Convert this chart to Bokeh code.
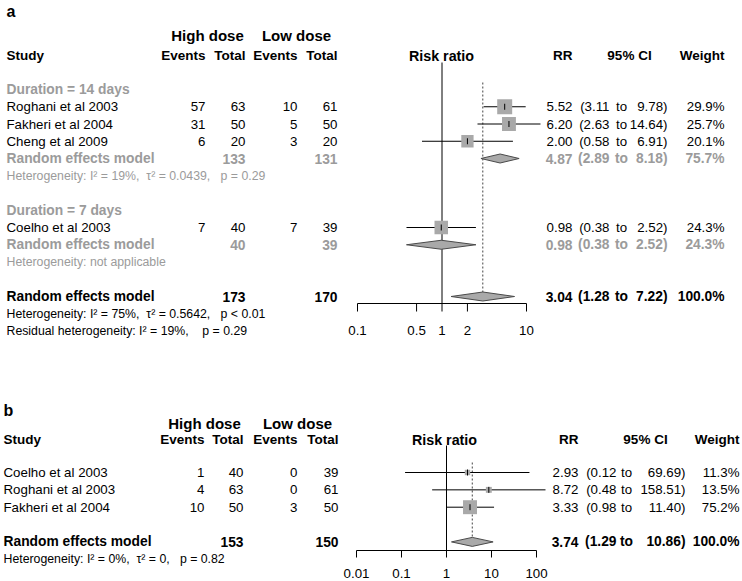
import numpy as np
from bokeh.plotting import figure
from bokeh.models import Range1d, LogScale
from bokeh.embed import file_html
from bokeh.resources import INLINE
from bokeh.core.properties import value

# ---------------- data: panel a ----------------
a_subgroups = ["Duration = 14 days", "Duration = 7 days"]
a_studies = ["Roghani et al 2003", "Fakheri et al 2004", "Cheng et al 2009", "Coelho et al 2003"]
a_ev_high = [57, 31, 6, 7]
a_tot_high = [63, 50, 20, 40]
a_ev_low = [10, 5, 3, 7]
a_tot_low = [61, 50, 20, 39]
a_rr = [5.52, 6.20, 2.00, 0.98]
a_lo = [3.11, 2.63, 0.58, 0.38]
a_hi = [9.78, 14.64, 6.91, 2.52]
a_w = [29.9, 25.7, 20.1, 24.3]
a_sub_tot_high = [133, 40]
a_sub_tot_low = [131, 39]
a_sub_rr = [4.87, 0.98]
a_sub_lo = [2.89, 0.38]
a_sub_hi = [8.18, 2.52]
a_sub_w = [75.7, 24.3]
a_sub_het = ["Heterogeneity: I\u00b2 = 19%,\u00a0 \u03c4\u00b2 = 0.0439,\u00a0\u00a0 p = 0.29",
             "Heterogeneity: not applicable"]
a_all_tot = [173, 170]
a_pool = [3.04, 1.28, 7.22, 100.0]
a_het = "Heterogeneity: I\u00b2 = 75%,\u00a0 \u03c4\u00b2 = 0.5642,\u00a0\u00a0 p < 0.01"
a_resid = "Residual heterogeneity: I\u00b2 = 19%,\u00a0\u00a0\u00a0 p = 0.29"
a_ticks = [0.1, 0.5, 1, 2, 10]

# ---------------- data: panel b ----------------
b_studies = ["Coelho et al 2003", "Roghani et al 2003", "Fakheri et al 2004"]
b_ev_high = [1, 4, 10]
b_tot_high = [40, 63, 50]
b_ev_low = [0, 0, 3]
b_tot_low = [39, 61, 50]
b_rr = [2.93, 8.72, 3.33]
b_lo = [0.12, 0.48, 0.98]
b_hi = [69.69, 158.51, 11.40]
b_w = [11.3, 13.5, 75.2]
b_all_tot = [153, 150]
b_pool = [3.74, 1.29, 10.86, 100.0]
b_het = "Heterogeneity: I\u00b2 = 0%,\u00a0 \u03c4\u00b2 = 0,\u00a0\u00a0 p = 0.82"
b_ticks = [0.01, 0.1, 1, 10, 100]

# ---------------- styling ----------------
FONT = value("Liberation Sans")
GRAY = "#9b9b9b"
SQ = "#a9a9a9"
FS = "13.3px"
FS_B = "13.8px"
FS_S = "12.3px"
FS_H = "13.5px"

W, H = 742, 581
X0, Y0 = 0, 0
p = figure(width=W, height=H, output_backend="svg", toolbar_location=None,
           x_range=Range1d(X0, X0 + W), y_range=Range1d(Y0 + H, Y0),
           x_axis_location=None, y_axis_location=None, min_border=0,
           outline_line_color=None)
p.grid.visible = False


def log_range(px_one, px_dec):
    return Range1d(10 ** ((X0 - px_one) / px_dec), 10 ** ((X0 + W - px_one) / px_dec))


p.extra_x_ranges = {"la": log_range(441.5, 84.5), "lb": log_range(446, 45)}
p.extra_x_scales = {"la": LogScale(), "lb": LogScale()}


def txt(xs, ys, texts, align="left", bold=False, color="black", size=None,
        base="middle", rng="default"):
    n = len(texts)
    if size is None:
        size = FS_B if bold else FS
    if not isinstance(xs, (list, tuple)):
        xs = [xs] * n
    if not isinstance(ys, (list, tuple)):
        ys = [ys] * n
    p.text(x=list(xs), y=list(ys), text=list(texts), text_align=align,
           text_baseline=base, text_font=FONT, text_font_size=size,
           text_font_style="bold" if bold else "normal", text_color=color,
           x_range_name=rng)


def forest(rng, ys, rr, lo, hi, w, k):
    p.segment(x0=lo, y0=ys, x1=hi, y1=ys, x_range_name=rng, line_color="black", line_width=1)
    p.scatter(x=rr, y=ys, size=[k * np.sqrt(v) for v in w], marker="square",
              fill_color=SQ, line_color=None, x_range_name=rng)
    p.scatter(x=rr, y=ys, size=6, marker="dash", angle=np.pi / 2,
              line_color="black", line_width=1, x_range_name=rng)


def diamonds(rng, ys, est, lo, hi, h):
    xs = [[l, e, u, e] for e, l, u in zip(est, lo, hi)]
    yy = [[y, y - h, y, y + h] for y in ys]
    p.patches(xs, yy, x_range_name=rng, fill_color=SQ, line_color="#4a4a4a", line_width=1)


def stats(ys, rr, lo, hi, w, cols, bold=False, color="black"):
    txt(cols[0], ys, [f"{v:.2f}" for v in rr], "right", bold, color)
    txt(cols[1], ys, [f"({v:.2f}" for v in lo], "right", bold, color)
    txt(cols[2], ys, ["to"] * len(rr), "center", bold, color)
    txt(cols[3], ys, [f"{v:.2f})" for v in hi], "right", bold, color)
    txt(cols[4], ys, [f"{v:.1f}%" for v in w], "right", bold, color)


def axis(rng, ticks, y, tl, ly):
    n = len(ticks)
    p.segment(x0=[ticks[0]], y0=[y], x1=[ticks[-1]], y1=[y], x_range_name=rng, line_color="black")
    p.segment(x0=ticks, y0=[y] * n, x1=ticks, y1=[y + tl] * n, x_range_name=rng, line_color="black")
    txt(ticks, ly, [f"{t:g}" for t in ticks], "center", rng=rng)


def table(ys, eh, th, el, tl, cols, bold=False, color="black"):
    for c, vals in zip(cols, [eh, th, el, tl]):
        txt(c, ys, [("" if v is None else str(v)) for v in vals], "right", bold, color)


# ================= panel a =================
ya = lambda i: 89 + 17.25 * i
A_COLS = [205, 245, 297, 337]
A_RCOLS = [572, 609, 621, 667, 724]

txt(6, 10.5, ["a"], bold=True, size="16px", base="alphabetic")
txt([207, 296], 35, ["High dose", "Low dose"], "center", True, size="15px")
txt(6, 55, ["Study"], bold=True, size=FS_H)
txt(A_COLS, 55, ["Events", "Total", "Events", "Total"], "right", True, size=FS_H)
txt(441, 55, ["Risk ratio"], "center", True, size="14.3px")
txt(572, 55, ["RR"], "right", True, size=FS_H)
txt(629, 55, ["95% CI"], "center", True, size=FS_H)
txt(724, 55, ["Weight"], "right", True, size=FS_H)

a_rows = [1, 2, 3, 8]
a_y = [ya(r) for r in a_rows]
a_sub_y = [ya(4), ya(9)]

# reference lines
p.segment(x0=[1], y0=[62], x1=[1], y1=[303], x_range_name="la", line_color="black")
p.segment(x0=[a_pool[0]], y0=[82], x1=[a_pool[0]], y1=[292], x_range_name="la",
          line_color="#444444", line_dash="2 2")

forest("la", a_y, a_rr, a_lo, a_hi, a_w, 2.74)
diamonds("la", a_sub_y, a_sub_rr, a_sub_lo, a_sub_hi, 4.5)
diamonds("la", [ya(12)], [a_pool[0]], [a_pool[1]], [a_pool[2]], 4.5)
axis("la", a_ticks, 303, 8, 330)

txt(6, [ya(0), ya(7)], a_subgroups, bold=True, color=GRAY)
txt(6, a_y, a_studies)
table(a_y, a_ev_high, a_tot_high, a_ev_low, a_tot_low, A_COLS)
stats(a_y, a_rr, a_lo, a_hi, a_w, A_RCOLS)

txt(6, a_sub_y, ["Random effects model"] * 2, bold=True, color=GRAY)
table(a_sub_y, [None, None], a_sub_tot_high, [None, None], a_sub_tot_low, A_COLS, True, GRAY)
stats(a_sub_y, a_sub_rr, a_sub_lo, a_sub_hi, a_sub_w, A_RCOLS, True, GRAY)
txt(6, [ya(5), ya(10)], a_sub_het, color=GRAY, size=FS_S)

txt(6, ya(12), ["Random effects model"], bold=True)
table([ya(12)], [None], [a_all_tot[0]], [None], [a_all_tot[1]], A_COLS, True)
stats([ya(12)], [a_pool[0]], [a_pool[1]], [a_pool[2]], [a_pool[3]], A_RCOLS, True)
txt(6, [ya(13), ya(14)], [a_het, a_resid], size=FS_S)

# ================= panel b =================
yb = lambda i: 472 + 17.35 * i
B_COLS = [204, 243, 297, 338]
B_RCOLS = [578, 616, 626, 685, 739]

txt(3, 410, ["b"], bold=True, size="16px", base="alphabetic")
txt([204, 297], 423, ["High dose", "Low dose"], "center", True, size="15px")
txt(3, 439, ["Study"], bold=True, size=FS_H)
txt(B_COLS, 439, ["Events", "Total", "Events", "Total"], "right", True, size=FS_H)
txt(444, 439, ["Risk ratio"], "center", True, size="14.3px")
txt(578, 439, ["RR"], "right", True, size=FS_H)
txt(645, 439, ["95% CI"], "center", True, size=FS_H)
txt(739, 439, ["Weight"], "right", True, size=FS_H)

b_y = [yb(i) for i in range(3)]
p.segment(x0=[1], y0=[445], x1=[1], y1=[550], x_range_name="lb", line_color="black")
p.segment(x0=[b_pool[0]], y0=[462], x1=[b_pool[0]], y1=[542], x_range_name="lb",
          line_color="#444444", line_dash="2 2")
forest("lb", b_y, b_rr, b_lo, b_hi, b_w, 1.61)
diamonds("lb", [yb(4)], [b_pool[0]], [b_pool[1]], [b_pool[2]], 4.5)
axis("lb", b_ticks, 550, 7, 573)

txt(3, b_y, b_studies)
table(b_y, b_ev_high, b_tot_high, b_ev_low, b_tot_low, B_COLS)
stats(b_y, b_rr, b_lo, b_hi, b_w, B_RCOLS)
txt(3, yb(4), ["Random effects model"], bold=True)
table([yb(4)], [None], [b_all_tot[0]], [None], [b_all_tot[1]], B_COLS, True)
stats([yb(4)], [b_pool[0]], [b_pool[1]], [b_pool[2]], [b_pool[3]], B_RCOLS, True)
txt(3, yb(5), [b_het], size=FS_S)

open("out.html", "w").write(file_html(p, INLINE))
